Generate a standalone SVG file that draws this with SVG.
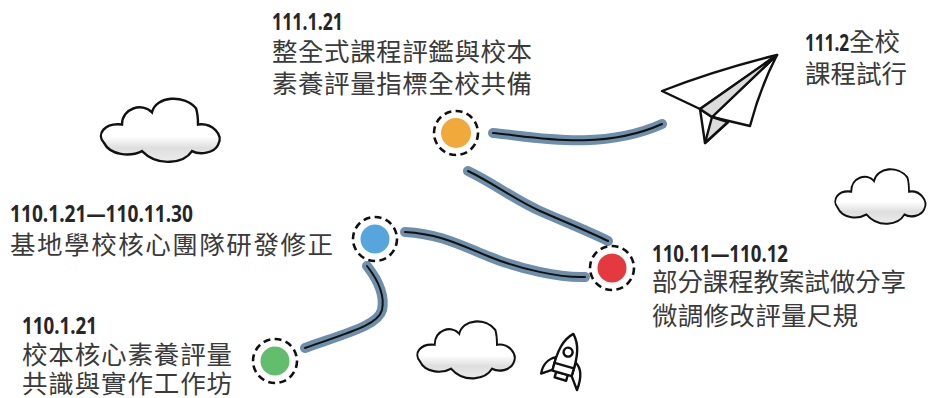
<svg xmlns="http://www.w3.org/2000/svg" width="929" height="398" viewBox="0 0 929 398">
  <style>
    .date { font-family: "Noto Sans", "Liberation Sans", sans-serif; font-weight: 700; font-size: 24px; fill: #262626; }
    .desc { font-family: "Noto Sans CJK TC", "Noto Sans CJK SC", sans-serif; font-size: 25.5px; fill: #3a3a3a; }
    .under { fill: none; stroke: #6f8ea9; stroke-width: 10; stroke-linecap: round; }
    .over { fill: none; stroke: #111; stroke-width: 2; stroke-linecap: round; }
    .ring { fill: #fff; stroke: #111; stroke-width: 2.6; stroke-dasharray: 7 4.4; }
    .ink { stroke: #111; stroke-width: 2.4; stroke-linejoin: round; stroke-linecap: round; }
  </style>
  <defs>
    <linearGradient id="cloudShade" x1="0" y1="0" x2="0" y2="1">
      <stop offset="0" stop-color="#ffffff"/>
      <stop offset="0.6" stop-color="#ffffff"/>
      <stop offset="0.78" stop-color="#dedede"/>
      <stop offset="1" stop-color="#ececec"/>
    </linearGradient>
    <path id="cloud" d="M6,46 C-2,38 6,26 24,28 C24,12 44,6 54,16 C58,0 86,-2 98,12 C100,18 100,22 100,28 C114,26 126,38 120,48 C116,56 102,58 94,54 C86,66 60,70 44,54 C32,60 12,58 6,46 Z" fill="url(#cloudShade)" stroke="#111" stroke-width="2.4"/>
  </defs>

  <rect width="929" height="398" fill="#fff"/>

  <!-- clouds -->
  <g id="cloud-left"><use href="#cloud" transform="translate(98,96) scale(1,1.02)"/></g>
  <g id="cloud-right"><use href="#cloud" transform="translate(833,167) scale(0.76,0.88)"/></g>
  <g id="cloud-bottom"><use href="#cloud" transform="translate(415,319) scale(0.82,0.92)"/></g>

  <!-- paper plane -->
  <g id="plane" fill="#fff">
    <path class="ink" d="M777,55 Q760,88 750,126 L712,117 Z"/>
    <path class="ink" d="M777,55 Q716,70 662,91 L700,109 Z"/>
    <path class="ink" d="M700,109 L705,143 L728,122 L712,117 Z"/>
    <path class="ink" d="M712,117 L728,122 L705,143 Z" fill="#dcdcdc"/>
    <path class="ink" d="M700,109 L777,55 L712,117 Z" fill="#dcdcdc"/>
  </g>

  <!-- rocket -->
  <g id="rocket" transform="translate(567,356) rotate(16)" fill="#fff">
    <path class="ink" d="M-10,4 C-18,8 -21,16 -20,24 L-10,17 Z"/>
    <path class="ink" d="M10,4 C18,8 20,18 19,30 L10,18 Z"/>
    <path class="ink" d="M-6,18 L-6,24 L6,24 L6,18 Z"/>
    <path class="ink" d="M0,-23 C8,-15 11,-4 10,18 L-10,18 C-11,-4 -8,-15 0,-23 Z"/>
    <line class="ink" x1="-10" y1="10" x2="10" y2="10"/>
    <circle class="ink" cx="0" cy="-4" r="4.5"/>
  </g>

  <!-- connectors -->
  <g id="connectors">
    <path class="under" d="M493,133 C530,136 600,152 662,124"/>
    <path class="over" d="M493,133 C530,136 600,152 662,124"/>
    <path class="under" d="M468,171 C495,184 515,200 540,211 S590,232 608,241"/>
    <path class="over" d="M468,171 C495,184 515,200 540,211 S590,232 608,241"/>
    <path class="under" d="M405,232 C440,234 460,245 490,257 S560,278 585,277"/>
    <path class="over" d="M405,232 C440,234 460,245 490,257 S560,278 585,277"/>
    <path class="under" d="M367,266 C378,280 385,296 382,310 C378,325 350,332 305,348"/>
    <path class="over" d="M367,266 C378,280 385,296 382,310 C378,325 350,332 305,348"/>
  </g>

  <!-- milestones -->
  <g id="node-orange">
    <circle class="ring" cx="456" cy="133" r="22"/>
    <circle cx="456" cy="133" r="15" fill="#f2a93b"/>
  </g>
  <g id="node-blue">
    <circle class="ring" cx="375" cy="239" r="22"/>
    <circle cx="375" cy="239" r="14.5" fill="#57a5dd"/>
  </g>
  <g id="node-red">
    <circle class="ring" cx="612" cy="268" r="22"/>
    <circle cx="612" cy="268" r="14.5" fill="#e3393f"/>
  </g>
  <g id="node-green">
    <circle class="ring" cx="275" cy="361" r="22"/>
    <circle cx="275" cy="361" r="14.5" fill="#62bd6e"/>
  </g>

  <!-- labels -->
  <g id="label-111-1-21">
    <text class="date" x="272" y="30" textLength="71" lengthAdjust="spacingAndGlyphs">111.1.21</text>
    <text class="desc" x="272" y="61" textLength="260" lengthAdjust="spacing">整全式課程評鑑與校本</text>
    <text class="desc" x="272" y="93" textLength="260" lengthAdjust="spacing">素養評量指標全校共備</text>
  </g>
  <g id="label-111-2">
    <text x="805" y="51"><tspan class="date" textLength="44" lengthAdjust="spacingAndGlyphs">111.2</tspan><tspan class="desc">全校</tspan></text>
    <text class="desc" x="805" y="83">課程試行</text>
  </g>
  <g id="label-110-1-21-110-11-30">
    <text class="date" x="10" y="222" textLength="183" lengthAdjust="spacingAndGlyphs">110.1.21—110.11.30</text>
    <text class="desc" x="10" y="254" textLength="323" lengthAdjust="spacing">基地學校核心團隊研發修正</text>
  </g>
  <g id="label-110-11-110-12">
    <text class="date" x="652" y="262" textLength="136" lengthAdjust="spacingAndGlyphs">110.11—110.12</text>
    <text class="desc" x="652" y="291" textLength="254" lengthAdjust="spacing">部分課程教案試做分享</text>
    <text class="desc" x="652" y="325" textLength="206" lengthAdjust="spacing">微調修改評量尺規</text>
  </g>
  <g id="label-110-1-21">
    <text class="date" x="22" y="334" textLength="75" lengthAdjust="spacingAndGlyphs">110.1.21</text>
    <text class="desc" x="22" y="364" textLength="210" lengthAdjust="spacing">校本核心素養評量</text>
    <text class="desc" x="22" y="393" textLength="210" lengthAdjust="spacing">共識與實作工作坊</text>
  </g>
</svg>
